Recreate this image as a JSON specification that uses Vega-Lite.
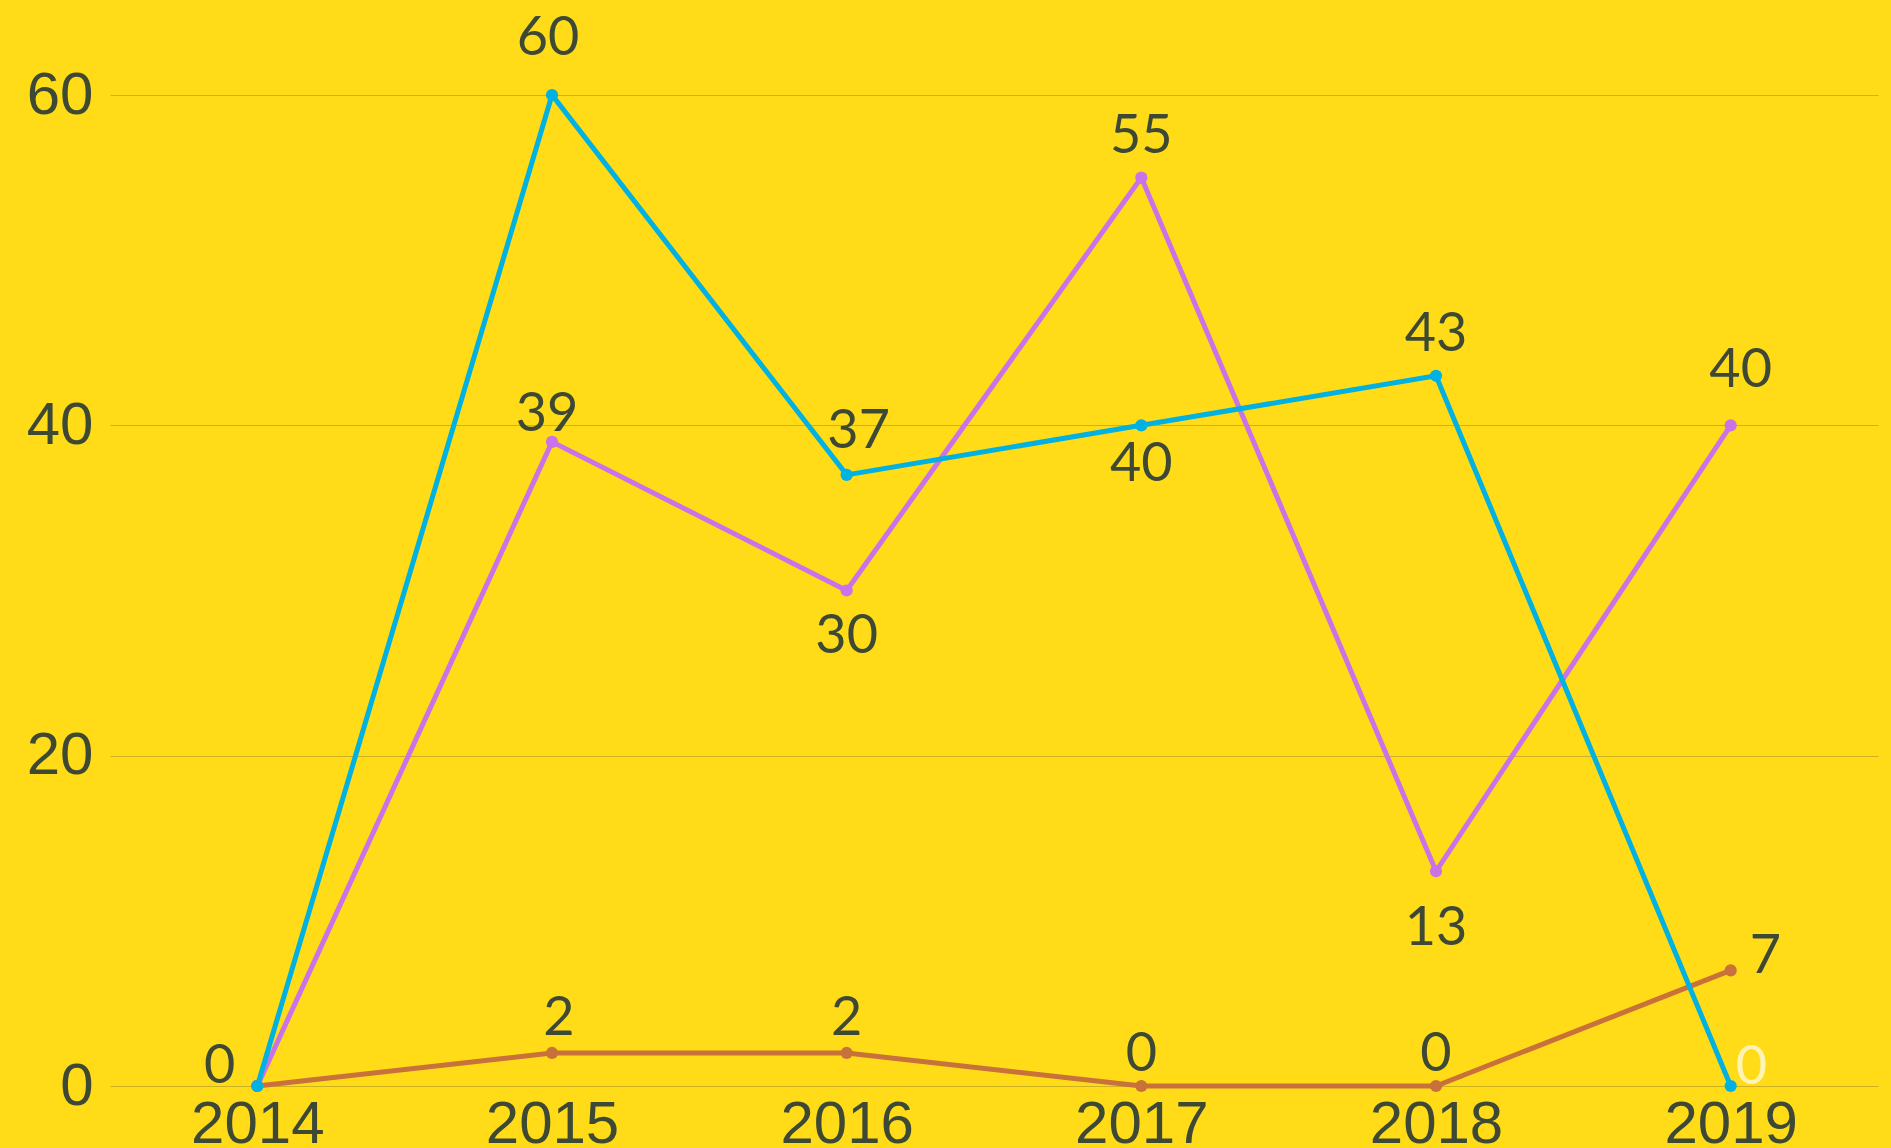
{
  "$schema": "https://vega.github.io/schema/vega-lite/v6.json",
  "autosize": {"type": "none"},
  "padding": {"left": 110, "top": 95, "right": 13, "bottom": 62},
  "width": 1768,
  "height": 991,
  "background": "#ffdc17",
  "config": {
    "view": {"stroke": null},
    "axis": {"domain": false, "ticks": false, "title": null, "labelFont": "Liberation Sans", "labelFontSize": 60, "labelColor": "#3d4934"},
    "axisX": {"grid": false, "labelPadding": 9, "labelAngle": 0},
    "axisY": {"grid": true, "gridColor": "#cdb11e", "gridWidth": 1.2, "labelPadding": 17}
  },
  "data": {
    "values": [
      {"s": "A", "year": 2014, "v": 0},
      {"s": "A", "year": 2015, "v": 2},
      {"s": "A", "year": 2016, "v": 2},
      {"s": "A", "year": 2017, "v": 0},
      {"s": "A", "year": 2018, "v": 0},
      {"s": "A", "year": 2019, "v": 7},
      {"s": "B", "year": 2014, "v": 0},
      {"s": "B", "year": 2015, "v": 39},
      {"s": "B", "year": 2016, "v": 30},
      {"s": "B", "year": 2017, "v": 55},
      {"s": "B", "year": 2018, "v": 13},
      {"s": "B", "year": 2019, "v": 40},
      {"s": "C", "year": 2014, "v": 0},
      {"s": "C", "year": 2015, "v": 60},
      {"s": "C", "year": 2016, "v": 37},
      {"s": "C", "year": 2017, "v": 40},
      {"s": "C", "year": 2018, "v": 43},
      {"s": "C", "year": 2019, "v": 0}
    ]
  },
  "encoding": {
    "x": {"field": "year", "type": "ordinal", "scale": {"type": "point", "padding": 0.5}},
    "y": {"field": "v", "type": "quantitative", "scale": {"domain": [0, 60], "nice": false, "zero": true}, "axis": {"values": [0, 20, 40, 60]}}
  },
  "layer": [
    {
      "mark": {"type": "line", "strokeWidth": 5, "clip": false},
      "encoding": {
        "color": {"field": "s", "type": "nominal", "legend": null, "scale": {"domain": ["A", "B", "C"], "range": ["#c9713a", "#c873e8", "#00b1e1"]}}
      }
    },
    {
      "mark": {"type": "point", "filled": true, "opacity": 1, "size": 150, "clip": false},
      "encoding": {
        "color": {"field": "s", "type": "nominal", "legend": null, "scale": {"domain": ["A", "B", "C"], "range": ["#c9713a", "#c873e8", "#00b1e1"]}}
      }
    },
    {
      "transform": [{"filter": "datum.s=='C' && datum.year==2015"}],
      "mark": {"type": "text", "font": "Lato", "fontSize": 54, "color": "#3d4934", "baseline": "alphabetic", "dy": -40, "dx": -4},
      "encoding": {"text": {"field": "v", "type": "quantitative"}}
    },
    {
      "transform": [{"filter": "datum.s=='B' && datum.year==2019"}],
      "mark": {"type": "text", "font": "Lato", "fontSize": 54, "color": "#3d4934", "baseline": "alphabetic", "dy": -38, "dx": 10},
      "encoding": {"text": {"field": "v", "type": "quantitative"}}
    },
    {
      "transform": [{"filter": "datum.s=='C' && datum.year==2016"}],
      "mark": {"type": "text", "font": "Lato", "fontSize": 54, "color": "#3d4934", "baseline": "alphabetic", "dy": -27, "dx": 12},
      "encoding": {"text": {"field": "v", "type": "quantitative"}}
    },
    {
      "transform": [{"filter": "(datum.s=='C' && datum.year==2018) || (datum.s=='B' && datum.year==2017)"}],
      "mark": {"type": "text", "font": "Lato", "fontSize": 54, "color": "#3d4934", "baseline": "alphabetic", "dy": -25},
      "encoding": {"text": {"field": "v", "type": "quantitative"}}
    },
    {
      "transform": [{"filter": "datum.s=='B' && datum.year==2015"}],
      "mark": {"type": "text", "font": "Lato", "fontSize": 54, "color": "#3d4934", "baseline": "alphabetic", "dy": -11, "dx": -5},
      "encoding": {"text": {"field": "v", "type": "quantitative"}}
    },
    {
      "transform": [{"filter": "datum.s=='A' && datum.year==2015"}],
      "mark": {"type": "text", "font": "Lato", "fontSize": 54, "color": "#3d4934", "baseline": "alphabetic", "dy": -18, "dx": 7},
      "encoding": {"text": {"field": "v", "type": "quantitative"}}
    },
    {
      "transform": [{"filter": "datum.s=='A' && datum.year==2016"}],
      "mark": {"type": "text", "font": "Lato", "fontSize": 54, "color": "#3d4934", "baseline": "alphabetic", "dy": -18},
      "encoding": {"text": {"field": "v", "type": "quantitative"}}
    },
    {
      "transform": [{"filter": "datum.s=='A' && (datum.year==2017 || datum.year==2018)"}],
      "mark": {"type": "text", "font": "Lato", "fontSize": 54, "color": "#3d4934", "baseline": "alphabetic", "dy": -15},
      "encoding": {"text": {"field": "v", "type": "quantitative"}}
    },
    {
      "transform": [{"filter": "datum.s=='C' && datum.year==2017"}],
      "mark": {"type": "text", "font": "Lato", "fontSize": 54, "color": "#3d4934", "baseline": "alphabetic", "dy": 56},
      "encoding": {"text": {"field": "v", "type": "quantitative"}}
    },
    {
      "transform": [{"filter": "datum.s=='B' && datum.year==2016"}],
      "mark": {"type": "text", "font": "Lato", "fontSize": 54, "color": "#3d4934", "baseline": "alphabetic", "dy": 62},
      "encoding": {"text": {"field": "v", "type": "quantitative"}}
    },
    {
      "transform": [{"filter": "datum.s=='B' && datum.year==2018"}],
      "mark": {"type": "text", "font": "Lato", "fontSize": 54, "color": "#3d4934", "baseline": "alphabetic", "dy": 74},
      "encoding": {"text": {"field": "v", "type": "quantitative"}}
    },
    {
      "transform": [{"filter": "datum.s=='A' && datum.year==2019"}],
      "mark": {"type": "text", "font": "Lato", "fontSize": 54, "color": "#3d4934", "baseline": "alphabetic", "align": "left", "dx": 19, "dy": 3},
      "encoding": {"text": {"field": "v", "type": "quantitative"}}
    },
    {
      "transform": [{"filter": "datum.s=='C' && datum.year==2019"}],
      "mark": {"type": "text", "font": "Lato", "fontSize": 54, "color": "#fff4b3", "baseline": "alphabetic", "align": "left", "dx": 5, "dy": -2},
      "encoding": {"text": {"field": "v", "type": "quantitative"}}
    },
    {
      "transform": [{"filter": "datum.s=='C' && datum.year==2014"}],
      "mark": {"type": "text", "font": "Lato", "fontSize": 54, "color": "#3d4934", "baseline": "alphabetic", "align": "right", "dx": -22, "dy": -3},
      "encoding": {"text": {"field": "v", "type": "quantitative"}}
    }
  ]
}
